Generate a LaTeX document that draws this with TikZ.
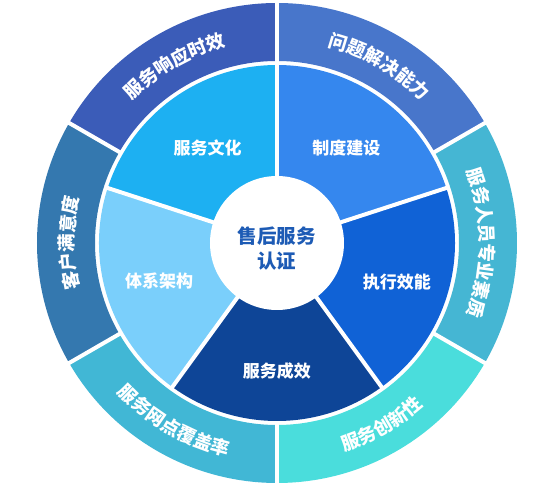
\documentclass[tikz,border=0pt]{standalone}
\usepackage{fontspec}
\setmainfont{Noto Sans CJK SC}
\usetikzlibrary{decorations.text}
\definecolor{outA}{HTML}{3B5CB8}
\definecolor{outB}{HTML}{4876CB}
\definecolor{outC}{HTML}{45B6D3}
\definecolor{outD}{HTML}{4ADDDC}
\definecolor{outE}{HTML}{41B7D5}
\definecolor{outF}{HTML}{3478AF}
\definecolor{midA}{HTML}{1DB0F2}
\definecolor{midB}{HTML}{3587EE}
\definecolor{midC}{HTML}{1062D6}
\definecolor{midD}{HTML}{0E4597}
\definecolor{midE}{HTML}{7ACFFB}
\definecolor{hubtext}{HTML}{1D5BB5}
\newcommand\ringfont{\bfseries\fontsize{18.5}{22}\selectfont}
\begin{document}
\begin{tikzpicture}[
		inlabel/.style={text=white, font=\bfseries\fontsize{17}{20}\selectfont},
		hublabel/.style={text=hubtext, font=\bfseries\fontsize{19.5}{25}\selectfont, align=center},
		gap/.style={white, line width=4pt},
		ringtext/.style={decorate, decoration={text along path, text align=center, text color=white, text={|\ringfont|#1}}},
	]
	\useasboundingbox (-277pt,-259pt) rectangle (278pt,243pt);
	% outer ring
	\foreach \a/\c in {120/outA, 60/outB, 0/outC, -60/outD, -120/outE, 180/outF}
		\fill[\c] ({\a+30}:182pt) arc[start angle=\a+30, end angle=\a-30, radius=182pt] -- ({\a-30}:240pt) arc[start angle=\a-30, end angle=\a+30, radius=240pt] -- cycle;
	\foreach \a in {90, 30, -30, -90, -150, 150}
		\draw[gap] (\a:178pt) -- (\a:242pt);
	% inner ring
	\foreach \a/\c in {126/midA, 54/midB, -18/midC, -90/midD, 198/midE}
		\fill[\c] (0,0) -- ({\a+36}:178pt) arc[start angle=\a+36, end angle=\a-36, radius=178pt] -- cycle;
	\foreach \a in {90, 18, -54, -126, 162}
		\draw[gap] (0,0) -- (\a:179pt);
	\fill[white] (0,0) circle[radius=67pt];
	\node[hublabel] (hub) at (0,-6pt) {售后服务\\认证};
	\node[inlabel] (culture) at (126:118pt) {服务文化};
	\node[inlabel] (system) at (54:118pt) {制度建设};
	\node[inlabel] (execution) at (-18:126pt) {执行效能};
	\node[inlabel] (results) at (-90:128pt) {服务成效};
	\node[inlabel] (framework) at (198:124pt) {体系架构};
	% ring labels
	\path[ringtext=服务响应时效] (150:203pt) arc[start angle=150, end angle=90, radius=203pt];
	\path[ringtext=问题解决能力] (90:203pt) arc[start angle=90, end angle=30, radius=203pt];
	\path[ringtext=服务人员专业素质] (30:203pt) arc[start angle=30, end angle=-30, radius=203pt];
	\path[ringtext=服务创新性] (-90:219pt) arc[start angle=-90, end angle=-30, radius=219pt];
	\path[ringtext=服务网点覆盖率] (-150:219pt) arc[start angle=-150, end angle=-90, radius=219pt];
	\path[ringtext=客户满意度] (210:203pt) arc[start angle=210, end angle=150, radius=203pt];
\end{tikzpicture}
\end{document}
